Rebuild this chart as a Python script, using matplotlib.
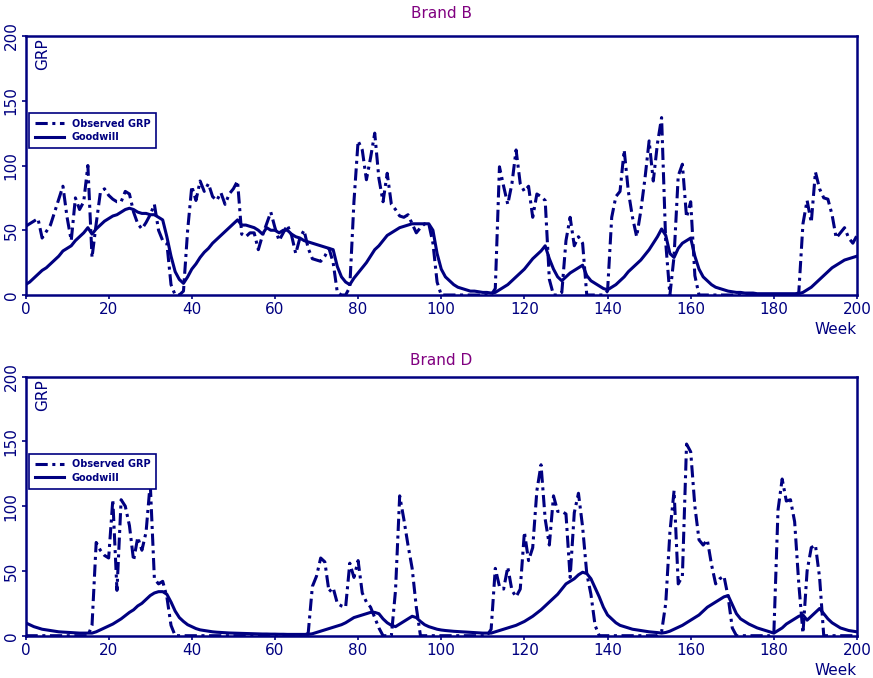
import matplotlib
matplotlib.use("Agg")
import matplotlib.pyplot as plt
import numpy as np

# weeks 0..200
weeks = np.arange(0, 201)

# Brand B - observed GRP (one value per week)
obs_b = [
    53, 55, 57, 59, 44, 49, 54, 64, 74, 84,
    60, 42, 75, 66, 72, 100, 29, 55, 79, 82,
    77, 74, 72, 72, 80, 78, 64, 55, 51, 56,
    62, 70, 50, 42, 40, 8, 0, 0, 3, 50,
    84, 73, 88, 80, 86, 76, 73, 79, 70, 78,
    82, 88, 47, 45, 48, 48, 35, 46, 55, 64,
    52, 42, 48, 54, 46, 32, 44, 50, 36, 28,
    27, 26, 30, 36, 25, 2, 0, 0, 6, 72,
    119, 112, 89, 106, 125, 90, 72, 94, 70, 66,
    61, 60, 62, 55, 48, 52, 55, 55, 40, 10,
    0, 0, 0, 0, 0, 0, 0, 0, 0, 0,
    0, 0, 0, 5, 99, 84, 70, 86, 112, 86,
    80, 84, 60, 78, 76, 73, 12, 0, 0, 2,
    42, 60, 38, 45, 40, 0, 0, 0, 0, 0,
    3, 60, 76, 80, 112, 80, 60, 45, 65, 90,
    119, 88, 117, 137, 40, 0, 30, 92, 101, 60,
    72, 15, 0, 0, 0, 0, 0, 0, 0, 0,
    0, 0, 0, 0, 0, 0, 0, 0, 0, 0,
    0, 0, 0, 0, 0, 0, 2, 55, 73, 56,
    95, 82, 75, 74, 62, 44, 48, 52, 44, 40,
    46,
]

# Brand B - goodwill
gw_b = [
    8, 10, 13, 16, 19, 21, 24, 27, 30, 34,
    36, 38, 42, 45, 48, 52, 47, 51, 54, 57,
    59, 61, 62, 64, 66, 67, 66, 64, 63, 63,
    62, 62, 60, 58, 45, 30, 18, 12, 9, 14,
    20, 24, 29, 33, 36, 40, 43, 46, 49, 52,
    55, 58, 54, 54, 53, 52, 50, 47, 52, 50,
    50, 48, 50, 50, 47, 45, 44, 42, 41, 40,
    39, 38, 37, 36, 35, 22, 14, 10, 8, 13,
    17, 21, 25, 30, 35, 38, 42, 46, 48, 50,
    52, 53, 54, 55, 55, 55, 55, 55, 50, 32,
    20, 14, 11, 8, 6, 5, 4, 3, 3, 2.5,
    2, 2, 1.5, 2, 4, 6, 8, 11, 14, 17,
    20, 24, 28, 31, 34, 38, 28, 20, 14, 11,
    14, 17, 19, 21, 23, 15, 11, 9, 7, 5,
    4, 6, 8, 11, 14, 18, 21, 24, 27, 31,
    35, 40, 45, 51, 46, 32, 29, 36, 40, 42,
    44, 30, 20, 14, 11, 8, 6, 5, 4, 3,
    2.5, 2, 2, 1.5, 1.5, 1.5, 1, 1, 1, 1,
    1, 1, 1, 1, 1, 1, 1, 2, 4, 6,
    9, 12, 15, 18, 21, 23, 25, 27, 28, 29,
    30,
]

# Brand D - observed GRP
obs_d = [
    0, 0, 0, 0, 0, 0, 0, 0, 0, 0,
    0, 0, 0, 0, 0, 0, 8, 72, 66, 62,
    60, 105, 35, 105, 100, 85, 58, 76, 66, 80,
    118, 44, 40, 42, 30, 8, 0, 0, 0, 0,
    0, 0, 0, 0, 0, 0, 0, 0, 0, 0,
    0, 0, 0, 0, 0, 0, 0, 0, 0, 0,
    0, 0, 0, 0, 0, 0, 0, 0, 2, 38,
    46, 60, 57, 34, 37, 25, 23, 22, 56, 45,
    58, 33, 26, 22, 14, 6, 0, 0, 0, 35,
    108, 90, 70, 52, 22, 0, 0, 0, 0, 0,
    0, 0, 0, 0, 0, 0, 0, 0, 0, 0,
    0, 0, 5, 52, 38, 36, 53, 35, 30, 36,
    80, 58, 68, 112, 132, 90, 70, 108, 96, 96,
    94, 45, 95, 110, 84, 48, 32, 8, 0, 0,
    0, 0, 0, 0, 0, 0, 0, 0, 0, 0,
    0, 0, 0, 3, 25, 80, 112, 40, 46, 148,
    142, 100, 74, 70, 74, 55, 40, 44, 46, 30,
    6, 0, 0, 0, 0, 0, 0, 0, 0, 0,
    2, 97, 121, 104, 105, 88, 40, 2, 50, 68,
    70, 45, 0, 0, 0, 0, 0, 0, 0, 0,
    0,
]

# Brand D - goodwill
gw_d = [
    10, 8.5, 7, 6, 5, 4.5, 4, 3.5, 3, 2.8,
    2.6, 2.4, 2.2, 2, 2, 2, 2, 3, 4.5, 6,
    7.5, 9, 11, 13, 15.5, 18, 20, 23, 25, 28,
    31, 33, 34, 34, 32, 26, 19, 14, 11, 8.5,
    7, 5.5, 4.5, 4, 3.5, 3, 2.7, 2.5, 2.3, 2.1,
    2, 1.9, 1.8, 1.7, 1.6, 1.5, 1.4, 1.3, 1.3, 1.2,
    1.2, 1.1, 1.1, 1, 1, 1, 1, 1, 1, 1.5,
    2.5, 3.5, 4.5, 5.5, 6.5, 7.5, 8.5, 10, 12, 14,
    15, 16, 17, 18, 18, 17, 13, 10, 8, 7,
    9, 11, 13, 15, 14, 11, 8.5, 7, 6, 5,
    4.4, 4, 3.7, 3.4, 3.2, 3, 2.8, 2.6, 2.4, 2.2,
    2, 2, 2, 3, 4, 5, 6, 7, 8, 9.5,
    11, 13, 15, 17.5, 20, 23, 26, 29, 32, 36,
    40, 42, 44, 47, 49, 48, 44, 37, 30, 22,
    16, 13, 10, 8, 7, 6, 5, 4.5, 4, 3.5,
    3, 2.7, 2.4, 2, 2.5, 3.5, 5, 6.5, 8, 10,
    12, 14, 16, 19, 22, 24, 26, 28, 30, 31,
    24, 17, 13, 11, 9, 7.5, 6, 5, 4, 3,
    2, 4, 6, 9, 11, 13, 15, 16, 12, 15,
    18, 21, 17, 13, 10, 8, 6, 5, 4, 3.5,
    3,
]

navy = "#000080"
purple = "#800080"
dashdot = (0, (4, 1.5, 1, 1.5))

plt.rcParams['font.family'] = 'DejaVu Sans'

fig = plt.figure(figsize=(8.73, 6.78), dpi=100)

# axes positions in figure fraction
ax_left = 25.5 / 873
ax_width = (857 - 25.5) / 873
ax_top = fig.add_axes([ax_left, 1 - 295 / 678, ax_width, 259 / 678])
ax_bot = fig.add_axes([ax_left, 1 - 635.7 / 678, ax_width, 259 / 678])

panels = [
    (ax_top, obs_b, gw_b, "Brand B", 1 - 13.5 / 678),
    (ax_bot, obs_d, gw_d, "Brand D", 1 - 360 / 678),
]

for ax, obs, gw, title, title_y in panels:
    ax.plot(weeks, obs, color=navy, linewidth=2.2, linestyle=dashdot,
            label="Observed GRP")
    ax.plot(weeks, gw, color=navy, linewidth=2.2, label="Goodwill")

    ax.set_xlim(0, 200)
    ax.set_ylim(0, 200)
    ax.set_xticks(np.arange(0, 201, 20))
    ax.set_yticks(np.arange(0, 201, 50))
    ax.tick_params(colors=navy, labelsize=11, length=3, width=1.2, pad=2)
    for lab in ax.get_yticklabels():
        lab.set_rotation(90)
        lab.set_va("center")

    for sp in ax.spines.values():
        sp.set_color(navy)
        sp.set_linewidth(1.8)

    ax.text(0.012, 0.99, "GRP", rotation=90, va="top", ha="left",
            color=navy, fontsize=11, transform=ax.transAxes)
    ax.annotate("Week", xy=(1, 0), xycoords="axes fraction",
                xytext=(0, -25), textcoords="offset points",
                ha="right", va="center", color=navy, fontsize=11)

    fig.text(ax_left + ax_width / 2, title_y, title, ha="center",
             va="center", color=purple, fontsize=11)

    leg = ax.legend(loc="upper left", bbox_to_anchor=(0.004, 0.703),
                    borderaxespad=0, fontsize=7, handlelength=3,
                    fancybox=False, framealpha=1, labelspacing=0.35,
                    borderpad=0.6, prop={'size': 7, 'weight': 'bold'})
    leg.get_frame().set_edgecolor(navy)
    leg.get_frame().set_linewidth(1.2)
    for txt in leg.get_texts():
        txt.set_color(navy)

fig.savefig("out.png", dpi=100)
